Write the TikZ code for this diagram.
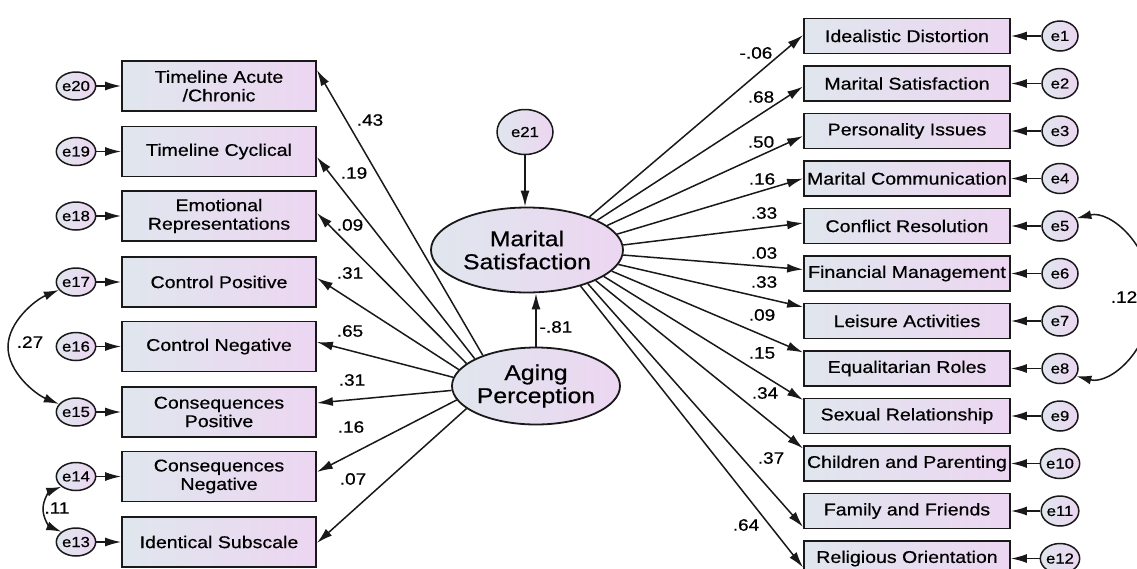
\documentclass[tikz,border=0pt]{standalone}
\usepackage{fontspec}
\setmainfont{Liberation Sans}[FakeStretch=1.15,FakeBold=0.6]
\usetikzlibrary{shapes.geometric,arrows.meta,calc}
\definecolor{gl}{RGB}{224,230,238}
\definecolor{gr}{RGB}{236,214,241}
\definecolor{ln}{RGB}{25,25,25}
\tikzset{
 grad/.style={left color=gl,right color=gr},
 lbox/.style={draw=ln,line width=1.8pt,grad,minimum width=194pt,minimum height=50pt,inner sep=1pt,align=center,font=\fontsize{17}{18.5}\selectfont},
 rbox/.style={lbox,minimum width=206pt,minimum height=35pt},
 err/.style={ellipse,draw=ln,line width=1.5pt,grad,minimum width=38pt,minimum height=28pt,inner sep=0pt,font=\fontsize{14.5}{15}\selectfont},
 rerr/.style={err,minimum width=36pt,minimum height=30pt},
 lat/.style={ellipse,draw=ln,line width=1.8pt,grad,inner sep=0pt,align=center,font=\fontsize{21.5}{23}\selectfont},
 arr/.style={draw=ln,line width=1.5pt,-{Latex[length=16pt,width=9pt]}},
 cov/.style={draw=ln,line width=1.5pt,{Latex[length=15pt,width=9pt]}-{Latex[length=15pt,width=9pt]}},
 coef/.style={font=\fontsize{16.5}{17}\selectfont,inner sep=0pt},
}
\begin{document}
\begin{tikzpicture}[x=1pt,y=-1pt]
\useasboundingbox (0,0) rectangle (1137,568);
% left boxes
\node[lbox] (L1) at (219,86) {Timeline Acute\\/Chronic};
\node[lbox] (L2) at (219,151.5) {Timeline Cyclical};
\node[lbox] (L3) at (219,216) {Emotional\\Representations};
\node[lbox] (L4) at (219,282) {Control Positive};
\node[lbox] (L5) at (219,346.5) {Control Negative};
\node[lbox] (L6) at (219,412) {Consequences\\Positive};
\node[lbox] (L7) at (219,476.5) {Consequences\\Negative};
\node[lbox] (L8) at (219,542) {Identical Subscale};
% left errors
\node[err] (e20) at (76,86) {e20};
\node[err] (e19) at (76,151.5) {e19};
\node[err] (e18) at (76,216) {e18};
\node[err] (e17) at (76,282) {e17};
\node[err] (e16) at (76,346.5) {e16};
\node[err] (e15) at (76,412) {e15};
\node[err] (e14) at (76,476.5) {e14};
\node[err] (e13) at (76,542) {e13};
\foreach \e/\b in {e20/L1,e19/L2,e18/L3,e17/L4,e16/L5,e15/L6,e14/L7,e13/L8}
  \draw[arr] (\e) -- (\b);
% right boxes
\node[rbox] (R1) at (907,36) {Idealistic Distortion};
\node[rbox] (R2) at (907,83.5) {Marital Satisfaction};
\node[rbox] (R3) at (907,131) {Personality Issues};
\node[rbox] (R4) at (907,178.5) {Marital Communication};
\node[rbox] (R5) at (907,226) {Conflict Resolution};
\node[rbox] (R6) at (907,273.5) {Financial Management};
\node[rbox] (R7) at (907,321) {Leisure Activities};
\node[rbox] (R8) at (907,368.5) {Equalitarian Roles};
\node[rbox] (R9) at (907,416) {Sexual Relationship};
\node[rbox] (R10) at (907,463.5) {Children and Parenting};
\node[rbox] (R11) at (907,511) {Family and Friends};
\node[rbox] (R12) at (907,558.5) {Religious Orientation};
% right errors
\node[rerr] (e1) at (1060,36) {e1};
\node[rerr] (e2) at (1060,83.5) {e2};
\node[rerr] (e3) at (1060,131) {e3};
\node[rerr] (e4) at (1060,178.5) {e4};
\node[rerr] (e5) at (1060,226) {e5};
\node[rerr] (e6) at (1060,273.5) {e6};
\node[rerr] (e7) at (1060,321) {e7};
\node[rerr] (e8) at (1060,368.5) {e8};
\node[rerr] (e9) at (1060,416) {e9};
\node[rerr] (e10) at (1060,463.5) {e10};
\node[rerr] (e11) at (1060,511) {e11};
\node[rerr] (e12) at (1060,558.5) {e12};
\foreach \e/\b in {e1/R1,e2/R2,e3/R3,e4/R4,e5/R5,e6/R6,e7/R7,e8/R8,e9/R9,e10/R10,e11/R11,e12/R12}
  \draw[arr] (\e) -- (\b);
% latent variables
\node[lat,minimum width=192pt,minimum height=85pt] (MS) at (527,250) {Marital\\Satisfaction};
\node[lat,minimum width=168pt,minimum height=77pt] (AP) at (536,386) {Aging\\Perception};
\node[err,minimum width=56pt,minimum height=45pt] (e21) at (525,132) {e21};
\draw[arr] (e21.south) -- (e21.south |- MS.north);
\draw[arr] (AP.north) -- (AP.north |- MS.south);
\node[coef] (c0) at (556,327) {-.81};
% left paths
\draw[arr] (AP.150) -- ($(L1.east)+(0,-16)$);
\draw[arr] (AP.156) -- ($(L2.east)+(0,5.5)$);
\draw[arr] (AP.162) -- ($(L3.east)+(0,-3)$);
\draw[arr] (AP.168) -- ($(L4.east)+(0,-4)$);
\draw[arr] (AP.174) -- ($(L5.east)+(0,-4.5)$);
\draw[arr] (AP.183) -- ($(L6.east)+(0,-9)$);
\draw[arr] (AP.190) -- ($(L7.east)+(0,-4.5)$);
\draw[arr] (AP.198) -- ($(L8.east)+(0,1)$);
\node[coef] (c1) at (370,120) {.43};
\node[coef] (c2) at (354,173) {.19};
\node[coef] (c3) at (350,225) {.09};
\node[coef] (c4) at (350,273) {.31};
\node[coef] (c5) at (350,331) {.65};
\node[coef] (c6) at (352,380) {.31};
\node[coef] (c7) at (351,427) {.16};
\node[coef] (c8) at (353,479) {.07};
% right paths
\draw[arr] (MS.28) -- ($(R1.west)+(0,-1)$);
\draw[arr] (MS.23) -- ($(R2.west)+(0,3)$);
\draw[arr] (MS.17) -- ($(R3.west)+(0,5)$);
\draw[arr] (MS.10) -- ($(R4.west)+(0,0)$);
\draw[arr] (MS.3) -- ($(R5.west)+(0,-3)$);
\draw[arr] (MS.-3) -- ($(R6.west)+(0,-4)$);
\draw[arr] (MS.-9) -- ($(R7.west)+(0,-14)$);
\draw[arr] (MS.-14) -- ($(R8.west)+(0,-16)$);
\draw[arr] (MS.-19) -- ($(R9.west)+(0,-16)$);
\draw[arr] (MS.-24) -- ($(R10.west)+(0,-15)$);
\draw[arr] (MS.-29) -- ($(R11.west)+(0,16)$);
\draw[arr] (MS.-34) -- ($(R12.west)+(0,9)$);
\node[coef] (d1) at (756,53) {-.06};
\node[coef] (d2) at (761,97) {.68};
\node[coef] (d3) at (761,142) {.50};
\node[coef] (d4) at (762,179) {.16};
\node[coef] (d5) at (764,213) {.33};
\node[coef] (d6) at (764,253) {.03};
\node[coef] (d7) at (764,282) {.33};
\node[coef] (d8) at (762,315) {.09};
\node[coef] (d9) at (762,353) {.15};
\node[coef] (d10) at (765,393) {.34};
\node[coef] (d11) at (771,458) {.37};
\node[coef] (d12) at (746,525) {.64};
% covariances
\draw[cov] (e17.205) .. controls (35,300) and (8,322) .. (8,347) .. controls (8,372) and (35,394) .. (e15.155);
\node[coef] (k1) at (30,342) {.27};
\draw[cov] (e14.215) .. controls (50,491) and (43,499) .. (43,509) .. controls (43,519) and (50,527) .. (e13.145);
\node[coef] (k2) at (57,508) {.11};
\draw[cov] (e5.25) .. controls (1110,210) and (1152,245) .. (1152,297) .. controls (1152,350) and (1110,385) .. (e8.-25);
\node[coef] (k3) at (1124,297) {.12};
\end{tikzpicture}
\end{document}
